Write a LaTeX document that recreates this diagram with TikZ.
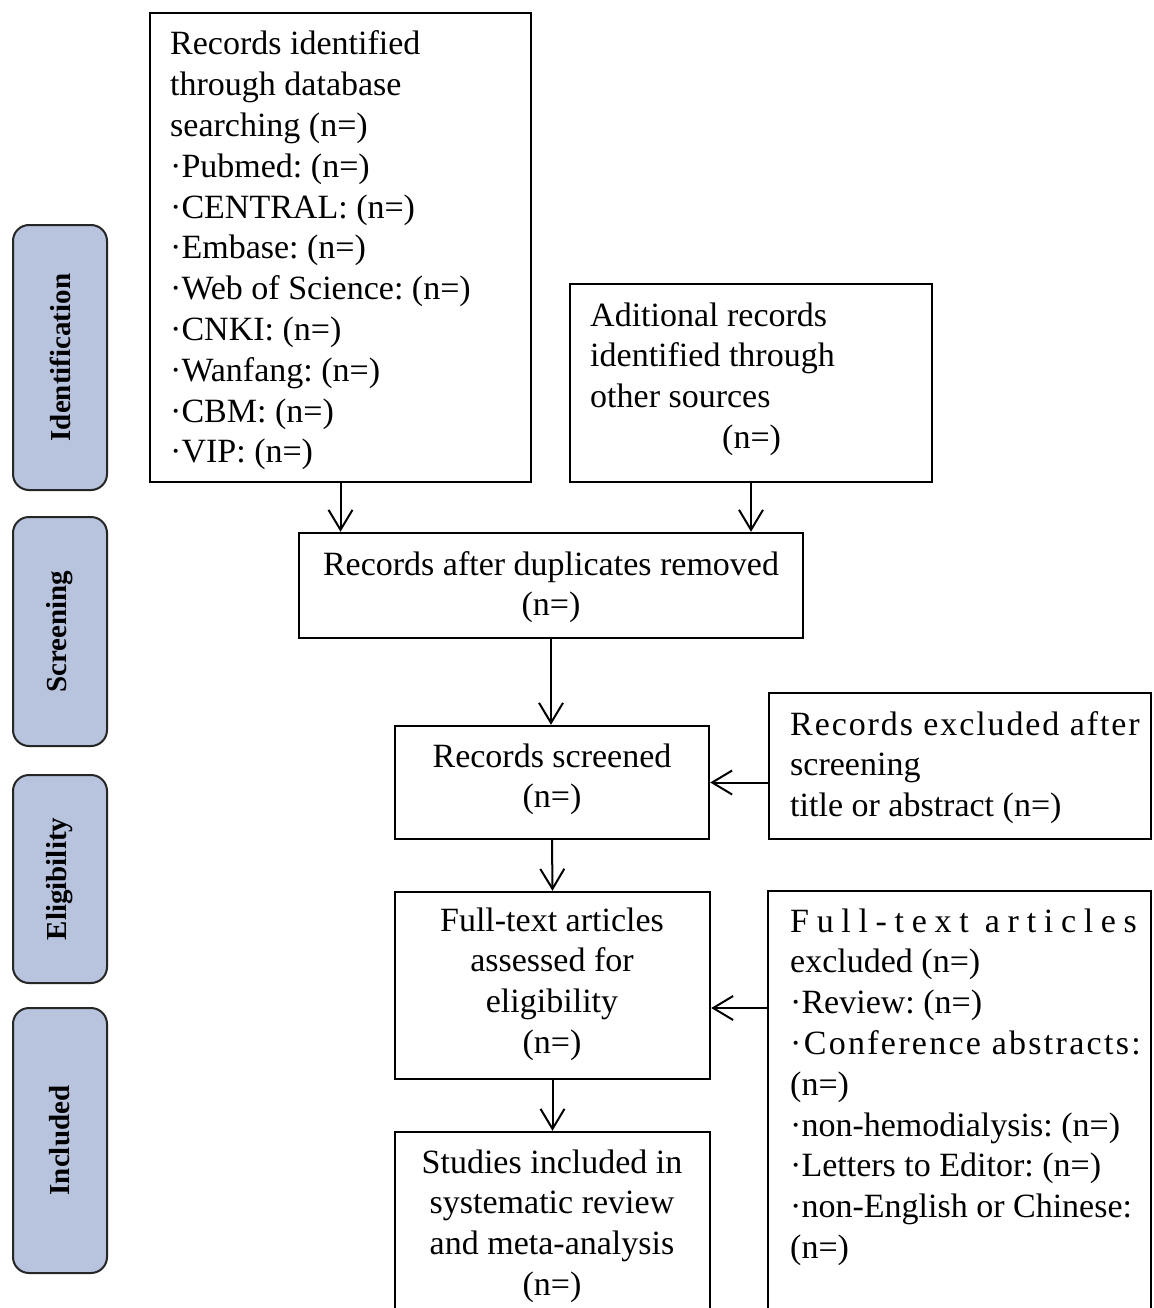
\documentclass[tikz,border=0pt]{standalone}
\usepackage{fontspec}
\setmainfont{Liberation Serif}
\usetikzlibrary{arrows.meta}
\definecolor{sidefill}{RGB}{184,195,222}
\frenchspacing
\newcommand{\blockL}[2]{\begin{minipage}[t]{#1}\fontsize{34}{40.8}\selectfont\frenchspacing\raggedright #2\end{minipage}}
\newcommand{\blockC}[2]{\begin{minipage}[t]{#1}\fontsize{34}{40.8}\selectfont\frenchspacing\centering #2\end{minipage}}
\begin{document}
\begin{tikzpicture}[x=1pt,y=-1pt,
  box/.style={draw=black, line width=2.4pt, fill=white, inner sep=0pt},
  side/.style={draw=black!85, line width=2pt, fill=sidefill, rounded corners=16pt, inner sep=0pt,
    font=\fontsize{29}{34}\selectfont\bfseries, rotate=90},
  arr/.style={line width=2pt, -{Straight Barb[length=20pt,width=24pt,line width=2pt]}},
  txt/.style={inner sep=0pt, anchor=base west},
  txtc/.style={inner sep=0pt, anchor=base},
]
\useasboundingbox (0,0) rectangle (1153,1308);
\fill[white] (0,0) rectangle (1153,1308);

% side labels
\node[side, minimum width=265pt, minimum height=94pt] (s1) at (60,357.5) {Identification};
\node[side, minimum width=229pt, minimum height=94pt] (s2) at (60,631.5) {Screening};
\node[side, minimum width=208pt, minimum height=94pt] (s3) at (60,879) {Eligibility};
\node[side, minimum width=265pt, minimum height=94pt] (s4) at (60,1140.5) {Included};

% boxes
\node[box, minimum width=381pt, minimum height=469pt] (b1) at (340.5,247.5) {};
\node[box, minimum width=362pt, minimum height=198pt] (b2) at (751,383) {};
\node[box, minimum width=504pt, minimum height=105pt] (b3) at (551,585.5) {};
\node[box, minimum width=314pt, minimum height=113pt] (b4) at (552,782.5) {};
\node[box, minimum width=382pt, minimum height=146pt] (b5) at (960,766) {};
\node[box, minimum width=315pt, minimum height=187pt] (b6) at (552.5,985.5) {};
\node[box, minimum width=383pt, minimum height=449pt] (b7) at (959.5,1115.5) {};
\node[box, minimum width=315pt, minimum height=208pt] (b8) at (552.5,1236) {};

% texts
\node[txt] (t1) at (170,55) {\blockL{350pt}{Records identified\\through database\\searching (n=)\\·Pubmed: (n=)\\·CENTRAL: (n=)\\·Embase: (n=)\\·Web of Science: (n=)\\·CNKI: (n=)\\·Wanfang: (n=)\\·CBM: (n=)\\·VIP: (n=)}};
\node[txt] (t2) at (590,326) {\blockL{330pt}{Aditional records\\identified through\\other sources\\\hspace*{132pt}(n=)}};
\node[txtc] (t3) at (551,575) {\blockC{490pt}{Records after duplicates removed\\(n=)}};
\node[txtc] (t4) at (552,767) {\blockC{300pt}{Records screened\\(n=)}};
\node[txt] (t5) at (790,735) {\blockL{362pt}{{\addfontfeature{LetterSpace=5.6}Records excluded after}\\screening\\title or abstract (n=)}};
\node[txtc] (t6) at (552,931) {\blockC{300pt}{Full-text articles\\assessed for\\eligibility\\(n=)}};
\node[txt] (t7) at (790,932) {\blockL{362pt}{{\addfontfeature{LetterSpace=22.6}Full-text articles}\\excluded (n=)\\·Review: (n=)\\{\addfontfeature{LetterSpace=6.7}·Conference abstracts:}\\(n=)\\·non-hemodialysis: (n=)\\·Letters to Editor: (n=)\\·non-English or Chinese:\\(n=)}};
\node[txtc] (t8) at (552,1173) {\blockC{300pt}{Studies included in\\systematic review\\and meta-analysis\\(n=)}};

% connectors
\draw[arr] (b1.south) -- (b1.south |- b3.north);
\draw[arr] (b2.south) -- (b2.south |- b3.north);
\draw[arr] (b3.south) -- (b3.south |- b4.north);
\draw[arr] (b4.east -| b5.west) -- (b4.east);
\draw[arr] (b4.south) -- (b6.north);
\draw[arr] ([yshift=-22.5pt]b6.east -| b7.west) -- ([yshift=-22.5pt]b6.east);
\draw[arr] (b6.south) -- (b8.north);
\end{tikzpicture}
\end{document}
